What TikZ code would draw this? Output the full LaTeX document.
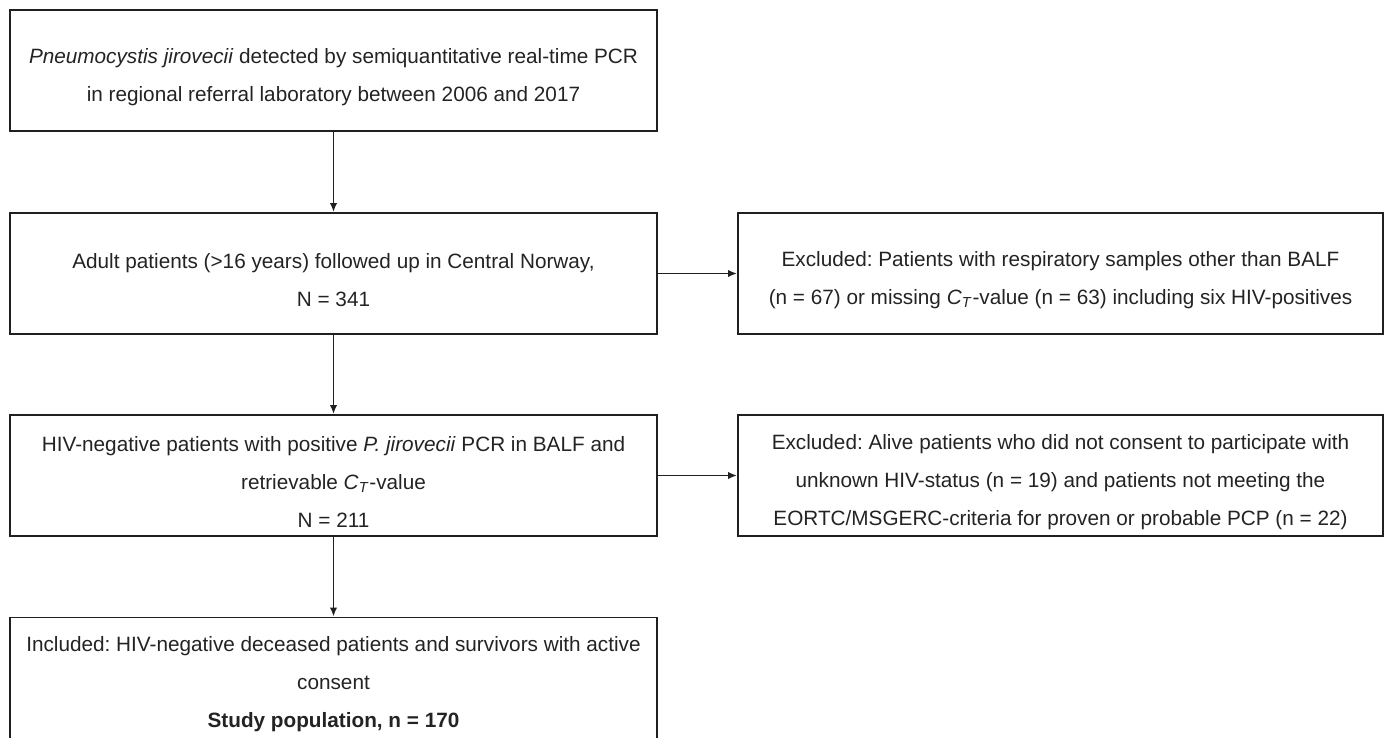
\documentclass[tikz,border=0pt]{standalone}
\usepackage{fontspec}
\setmainfont{Liberation Sans}
\usetikzlibrary{arrows.meta}
\frenchspacing
\definecolor{Ink}{HTML}{232323}
\definecolor{Frame}{HTML}{202020}
\newcommand{\ctval}{\textit{C}\textsubscript{\textit{T}}}
% lifts the first line a little, so the text sits lower in its box
\newcommand{\firstline}{\rule{0pt}{16pt}}

\begin{document}
\begin{tikzpicture}[
        font=\fontsize{11.8}{21.6}\selectfont,
        text=Ink,
        stage/.style={draw=Frame, line width=1.1pt, minimum width=12.94cm, minimum height=2.42cm, inner sep=0pt, align=center},
        excl/.style={draw=Frame, line width=1.1pt, minimum width=12.9cm, minimum height=2.42cm, inner sep=0pt, align=center},
        arr/.style={-{Latex[length=1.8mm, width=1.5mm]}, line width=1pt, color=Frame}
      ]
        \useasboundingbox (0,0) rectangle (27.8,-14.76);

        \node[stage] (detected) at (6.67,-1.41) {\firstline\textit{Pneumocystis jirovecii} detected by semiquantitative real-time PCR\\in regional referral laboratory between 2006 and 2017};
        \node[stage] (adults) at (6.67,-5.47) {\firstline Adult patients (>16 years) followed up in Central Norway,\\N = 341};
        \node[stage] (hivneg) at (6.67,-9.51) {\firstline HIV-negative patients with positive \textit{P. jirovecii} PCR in BALF and\\retrievable \ctval-value\\N = 211};
        \node[stage] (included) at (6.67,-13.56) {\firstline Included: HIV-negative deceased patients and survivors with active\\consent\\\textbf{Study population, n = 170}};

        \node[excl] (exclone) at (21.21,-5.47) {\firstline Excluded: Patients with respiratory samples other than BALF\\(n = 67) or missing \ctval-value (n = 63) including six HIV-positives};
        \node[excl] (excltwo) at (21.21,-9.51) {\firstline Excluded: Alive patients who did not consent to participate with\\unknown HIV-status (n = 19) and patients not meeting the\\EORTC/MSGERC-criteria for proven or probable PCP (n = 22)};

        \draw[arr] (detected.south) -- (adults.north);
        \draw[arr] (adults.south) -- (hivneg.north);
        \draw[arr] (hivneg.south) -- (included.north);

        \draw[arr] (adults.east) -- (exclone.west);
        \draw[arr] (hivneg.east) -- (excltwo.west);
      \end{tikzpicture}
\end{document}
